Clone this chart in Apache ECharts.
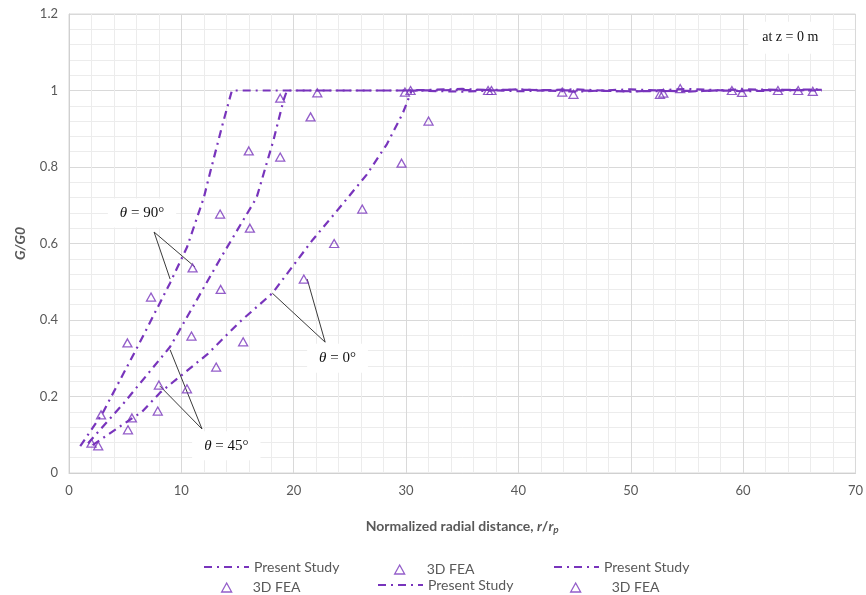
<!DOCTYPE html>
<html><head><meta charset="utf-8">
<script src="https://cdn.jsdelivr.net/npm/echarts@6/dist/echarts.min.js"></script>
<style>html,body{margin:0;padding:0;background:#fff}#c{width:866px;height:595px}</style>
</head><body><div id="c"></div>
<script>
// ---- data ----
const ps90X = [1.0, 3.0, 6.1, 9.0, 10.5, 12.0, 12.6, 13.7, 14.5, 20, 30, 40, 50, 60, 67];
const ps90Y = [0.07, 0.157, 0.33, 0.497, 0.59, 0.72, 0.79, 0.915, 1.0, 1.0, 1.0, 1.002, 0.998, 1.0, 1.003];
const ps45X = [1.7, 4.8, 9.0, 13.4, 16.7, 17.6, 18.2, 19.1, 19.4, 25, 30, 35, 40, 45, 50, 55, 60, 67];
const ps45Y = [0.078, 0.18, 0.33, 0.557, 0.72, 0.81, 0.87, 0.975, 1.0, 1.0, 1.0, 1.004, 0.998, 1.003, 0.997, 1.004, 0.998, 1.002];
const ps0X = [2.1, 4.7, 6.5, 8.1, 12.3, 15.2, 18.1, 21.7, 23.7, 26.5, 28.3, 29.7, 30.5, 35, 40, 45, 50, 55, 60, 67];
const ps0Y = [0.073, 0.125, 0.16, 0.21, 0.31, 0.395, 0.47, 0.61, 0.68, 0.78, 0.86, 0.94, 1.0, 0.997, 1.003, 0.997, 1.003, 0.997, 1.003, 1.0];

const fea90X = [2.0, 2.85, 5.2, 7.3, 11.0, 13.45, 16.0, 18.8, 22.1, 37.3, 43.9, 52.6, 59.0, 64.9];
const fea90Y = [0.078, 0.152, 0.34, 0.46, 0.536, 0.677, 0.842, 0.98, 0.994, 1.0, 0.996, 0.99, 1.0, 1.0];
const fea45X = [2.6, 5.6, 7.9, 10.9, 13.5, 16.1, 18.8, 21.5, 29.9, 37.6, 44.9, 52.9, 59.9, 63.1, 66.2];
const fea45Y = [0.071, 0.144, 0.162, 0.358, 0.48, 0.64, 0.826, 0.931, 0.996, 1.0, 0.99, 0.993, 0.995, 1.0, 0.998];
const fea0X = [5.25, 8.0, 10.5, 13.1, 15.5, 20.9, 23.6, 26.1, 29.6, 32.0, 30.4, 54.4];
const fea0Y = [0.113, 0.23, 0.22, 0.277, 0.343, 0.507, 0.60, 0.69, 0.81, 0.92, 1.0, 1.005];

const callouts = [
  { text: '90°', label: [6.5, 0.68], apex: [7.57, 0.63], ends: [[9.0, 0.507], [11.2, 0.539]] },
  { text: '45°', label: [14.0, 0.071], apex: [11.84, 0.115], ends: [[9.0, 0.322], [8.1, 0.227]] },
  { text: '0°', label: [23.9, 0.30], apex: [22.8, 0.342], ends: [[18.1, 0.47], [21.2, 0.507]] }
];
const noteText = 'at z = 0 m';
const notePos = [64.2, 1.138];

// ---- style ----
const PURPLE = '#7834bc';
const GRAY = '#595959';
const FONT = 'Lato';
const zip = (xs, ys) => xs.map((x, i) => [x, ys[i]]);

const lineSeries = (x, y) => ({
  type: 'line', name: 'Present Study', data: zip(x, y), symbol: 'none', smooth: false,
  lineStyle: { color: PURPLE, width: 2.2, type: [8, 5, 2, 5] }, itemStyle: { color: PURPLE }, z: 3
});
const feaSeries = (x, y) => ({
  type: 'scatter', name: '3D FEA', data: zip(x, y), symbol: 'triangle', symbolSize: [9, 8],
  itemStyle: { color: 'rgba(255,255,255,0)', borderColor: PURPLE, borderWidth: 1.3 }, z: 4
});
const calloutSeries = callouts.map(c => ({
  type: 'line', name: 'callout', data: [c.ends[0], c.apex, c.ends[1]], symbol: 'none', silent: true,
  lineStyle: { color: '#3a3a3a', width: 1 }, z: 2
}));

const legendLine = (left, top) => ({
  left, top, padding: 0, orient: 'horizontal', selectedMode: false, data: ['Present Study'],
  itemWidth: 45, itemHeight: 14, itemStyle: { opacity: 0 },
  textStyle: { color: GRAY, fontSize: 14, fontFamily: FONT }
});
const legendTri = (left, top, pad) => ({
  left, top, padding: 0, orient: 'horizontal', selectedMode: false,
  data: [{ name: '3D FEA', icon: 'triangle' }],
  itemWidth: 10, itemHeight: 9,
  itemStyle: { color: 'rgba(255,255,255,0)', borderColor: PURPLE, borderWidth: 1.3 },
  textStyle: { color: GRAY, fontSize: 14, fontFamily: FONT, padding: [0, 0, 0, pad] }
});

const chart = echarts.init(document.getElementById('c'));
chart.setOption({
  animation: false,
  backgroundColor: '#fff',
  grid: { left: 69, right: 10, top: 14, bottom: 122, show: true, borderColor: '#d9d9d9', borderWidth: 1 },
  xAxis: {
    type: 'value', min: 0, max: 70, interval: 10,
    axisLine: { show: true, lineStyle: { color: '#d0d0d0' } }, axisTick: { show: false },
    axisLabel: { color: GRAY, fontSize: 13, fontFamily: FONT, margin: 11 },
    splitLine: { show: true, lineStyle: { color: '#d9d9d9' } },
    minorTick: { show: false, splitNumber: 5 },
    minorSplitLine: { show: true, lineStyle: { color: '#ececec' } },
    name: '{b|Normalized radial distance, }{i|r}{b|/}{i|r}{s|p}', nameLocation: 'middle', nameGap: 44,
    nameTextStyle: { rich: {
      b: { fontWeight: 'bold', color: GRAY, fontSize: 14, fontFamily: FONT },
      i: { fontWeight: 'bold', fontStyle: 'italic', color: GRAY, fontSize: 14, fontFamily: FONT },
      s: { fontWeight: 'bold', fontStyle: 'italic', color: GRAY, fontSize: 10, fontFamily: FONT, padding: [8, 0, 0, 0] }
    } }
  },
  yAxis: {
    type: 'value', min: 0, max: 1.2, interval: 0.2,
    axisLine: { show: true, lineStyle: { color: '#d0d0d0' } }, axisTick: { show: false },
    axisLabel: { color: GRAY, fontSize: 13, fontFamily: FONT, margin: 11 },
    splitLine: { show: true, lineStyle: { color: '#d9d9d9' } },
    minorTick: { show: false, splitNumber: 5 },
    minorSplitLine: { show: true, lineStyle: { color: '#ececec' } },
    name: 'G/G0', nameLocation: 'middle', nameGap: 42, nameRotate: 90,
    nameTextStyle: { color: GRAY, fontSize: 14, fontWeight: 'bold', fontStyle: 'italic', fontFamily: FONT }
  },
  legend: [
    legendLine(203, 560),
    legendTri(394, 562.5, 17),
    legendLine(553, 560),
    legendTri(221, 580.5, 16),
    legendLine(377, 578),
    legendTri(570, 580.5, 26)
  ],
  series: [
    lineSeries(ps90X, ps90Y), feaSeries(fea90X, fea90Y),
    lineSeries(ps45X, ps45Y), feaSeries(fea45X, fea45Y),
    lineSeries(ps0X, ps0Y), feaSeries(fea0X, fea0Y),
    ...calloutSeries
  ]
});

const px = p => chart.convertToPixel({ gridIndex: 0 }, p);
const graphics = callouts.map(c => {
  const p = px(c.label);
  return {
    type: 'text', x: p[0], y: p[1], z: 10,
    style: {
      text: '{i|θ} = ' + c.text, align: 'center', verticalAlign: 'middle',
      fill: '#111', fontSize: 15, fontFamily: 'Liberation Serif',
      backgroundColor: '#fff', padding: [7, 12],
      rich: { i: { fontStyle: 'italic', fontSize: 15, fontFamily: 'Liberation Serif', fill: '#111' } }
    }
  };
});
const np = px(notePos);
graphics.push({
  type: 'text', x: np[0], y: np[1], z: 10,
  style: { text: noteText, align: 'center', verticalAlign: 'middle', fill: '#111', fontSize: 14,
    fontFamily: 'Liberation Serif', backgroundColor: '#fff', padding: [9, 14] }
});
chart.setOption({ graphic: graphics });
</script></body></html>
